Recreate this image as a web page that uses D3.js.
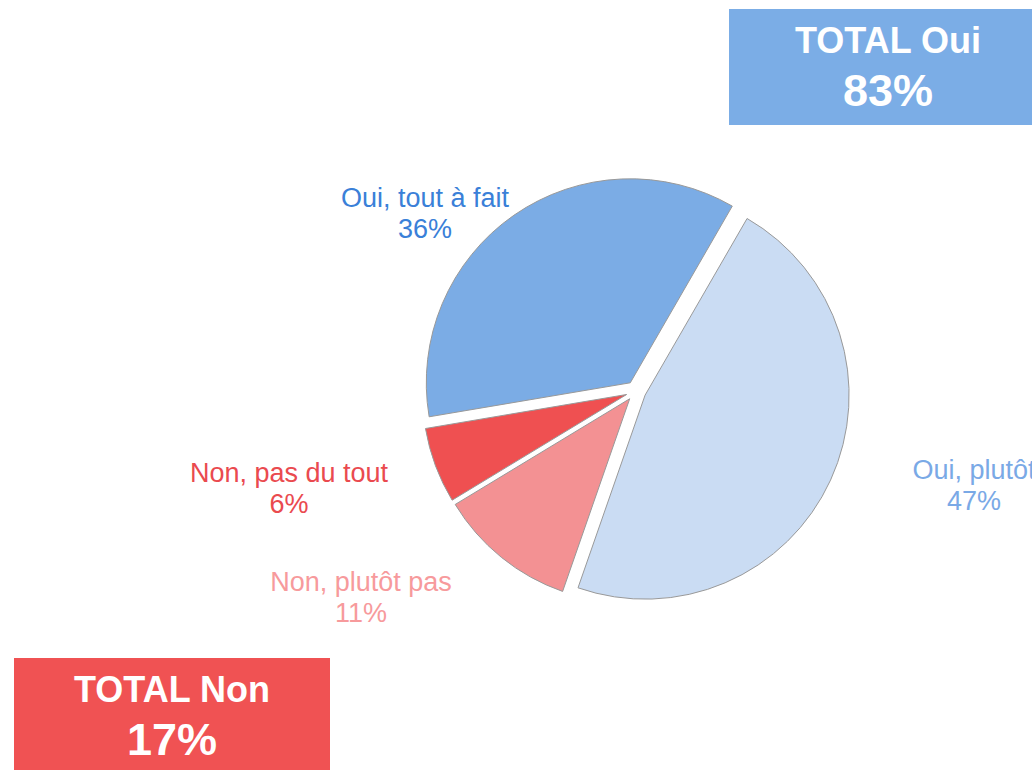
<!DOCTYPE html>
<html>
<head>
<meta charset="utf-8">
<script src="https://cdn.jsdelivr.net/npm/d3@7"></script>
<style>
  body { margin: 0; background: #fff; overflow: hidden; }
  text { font-family: "Liberation Sans", Arial, sans-serif; }
</style>
</head>
<body>
<script>
// data
var categories = ["Oui, plutôt", "Non, plutôt pas", "Non, pas du tout", "Oui, tout à fait"];
var values = [47, 11, 6, 36];
var sliceColors = ["#cadcf3", "#f39193", "#ef5051", "#7bace5"];
var labelColors = ["#7aa9e6", "#f79a9c", "#ea4a4f", "#3a80d8"];
var totals = [
    {"title": "TOTAL Oui", "value": "83%", "color": "#7badE6"},
    {"title": "TOTAL Non", "value": "17%", "color": "#f05253"}
];

// where each label's text sits (centre of the two lines)
var labelSpots = [[974, 485], [361, 597], [289, 488], [425, 213]];
var boxSpots = [[729, 9, 320, 116], [14, 658, 316, 120]];

var svg = d3.select("body")
            .append("svg")
            .attr("width", 1032)
            .attr("height", 770);

var cx = 636, cy = 391, radius = 204, explode = 10;

var pie = d3.pie()
            .sort(null)
            .startAngle(30 * Math.PI / 180)
            .endAngle(390 * Math.PI / 180)
            .value(function(d){ return d; });

var arc = d3.arc().innerRadius(0).outerRadius(radius);

var slices = pie(values);

var g = svg.append("g").attr("transform", "translate(" + cx + "," + cy + ")");

g.selectAll("path.slice")
 .data(slices)
 .enter()
 .append("path")
 .attr("class", "slice")
 .attr("d", arc)
 .attr("fill", function(d, i){ return sliceColors[i]; })
 .attr("stroke", "#999")
 .attr("stroke-width", 1)
 .attr("transform", function(d){
     var mid = (d.startAngle + d.endAngle) / 2;
     return "translate(" + (explode * Math.sin(mid)) + "," + (-explode * Math.cos(mid)) + ")";
 });

// slice labels
var labels = svg.selectAll("g.label")
                .data(slices)
                .enter()
                .append("g")
                .attr("class", "label")
                .attr("transform", function(d, i){ return "translate(" + labelSpots[i][0] + "," + labelSpots[i][1] + ")"; });

labels.append("text")
      .text(function(d, i){ return categories[i]; })
      .attr("text-anchor", "middle")
      .attr("y", -6)
      .style("font-size", "27px")
      .attr("fill", function(d, i){ return labelColors[i]; });

labels.append("text")
      .text(function(d){ return d.value + "%"; })
      .attr("text-anchor", "middle")
      .attr("y", 25)
      .style("font-size", "27px")
      .attr("fill", function(d, i){ return labelColors[i]; });

// total boxes
var boxes = svg.selectAll("g.total")
               .data(totals)
               .enter()
               .append("g")
               .attr("class", "total")
               .attr("transform", function(d, i){ return "translate(" + boxSpots[i][0] + "," + boxSpots[i][1] + ")"; });

boxes.append("rect")
     .attr("width", function(d, i){ return boxSpots[i][2]; })
     .attr("height", function(d, i){ return boxSpots[i][3]; })
     .attr("fill", function(d){ return d.color; });

boxes.append("text")
     .text(function(d){ return d.title; })
     .attr("x", function(d, i){ return i == 0 ? 159 : 158; })
     .attr("y", 44)
     .attr("text-anchor", "middle")
     .style("font-size", "36px")
     .style("font-weight", "bold")
     .attr("fill", "#fff");

boxes.append("text")
     .text(function(d){ return d.value; })
     .attr("x", function(d, i){ return i == 0 ? 159 : 158; })
     .attr("y", 97)
     .attr("text-anchor", "middle")
     .style("font-size", "45px")
     .style("font-weight", "bold")
     .attr("fill", "#fff");
</script>
</body>
</html>
